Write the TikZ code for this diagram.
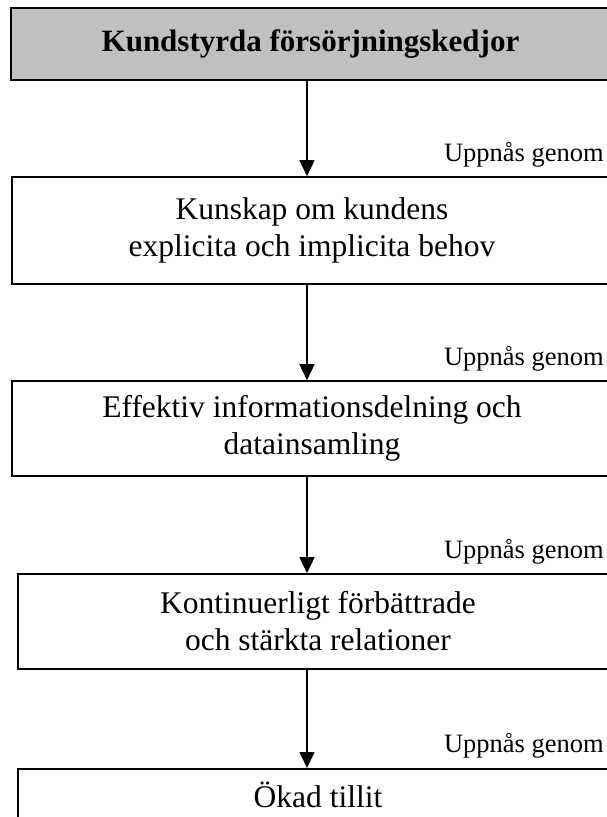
\documentclass[tikz,border=0pt]{standalone}
\usepackage{fontspec}
\setmainfont{Liberation Serif}
\usetikzlibrary{arrows.meta}
\definecolor{titlegray}{HTML}{C0C0C0}
\begin{document}
\begin{tikzpicture}[x=1pt,y=-1pt,
  box/.style={draw=black, line width=1.6pt, minimum width=600pt, align=center,
    font=\fontsize{31.5}{37}\selectfont, inner sep=0pt},
  conn/.style={line width=1.5pt, -{Triangle[width=15pt,length=16pt]}},
  via/.style={font=\fontsize{26.5}{30}\selectfont, anchor=base east, inner sep=0pt}]
\useasboundingbox (0,0) rectangle (607,817);
\clip (0,0) rectangle (607,817);
\fill[white] (0,0) rectangle (607,817);
\coordinate (ax) at (307,0);
\node[box, fill=titlegray, minimum width=599pt, minimum height=72pt,
  font=\fontsize{31}{36}\selectfont\bfseries] (t) at (310.5,44) {Kundstyrda försörjningskedjor};
\node[box, minimum height=107pt] (b1) at (312,230.5) {Kunskap om kundens\\explicita och implicita behov};
\node[box, minimum height=95pt] (b2) at (312,428.5) {Effektiv informationsdelning och\\datainsamling};
\node[box, minimum height=95pt] (b3) at (318,621.5) {Kontinuerligt förbättrade\\och stärkta relationer};
\node[box, anchor=north, text height=22pt, text depth=7pt, inner ysep=17pt] (b4) at (318,768) {Ökad tillit};
\node[via] (l1) at (604,161) {Uppnås genom};
\node[via] (l2) at (604,365) {Uppnås genom};
\node[via] (l3) at (604,558) {Uppnås genom};
\node[via] (l4) at (604,752) {Uppnås genom};
\draw[conn] (t.south -| ax) -- (b1.north -| ax);
\draw[conn] (b1.south -| ax) -- (b2.north -| ax);
\draw[conn] (b2.south -| ax) -- (b3.north -| ax);
\draw[conn] (b3.south -| ax) -- (b4.north -| ax);
\end{tikzpicture}
\end{document}
